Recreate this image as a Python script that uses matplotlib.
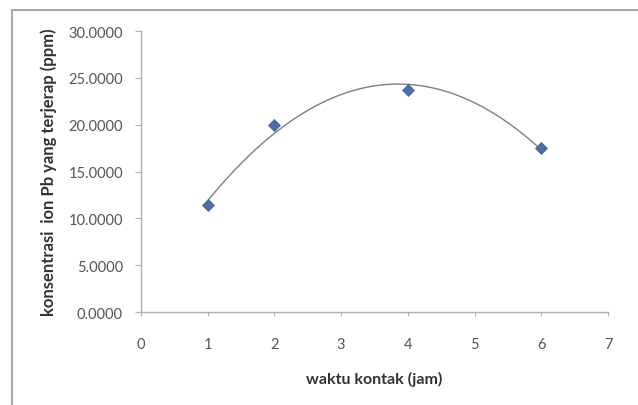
import numpy as np
import matplotlib
matplotlib.use('Agg')
import matplotlib.pyplot as plt
from matplotlib.lines import Line2D

# data
waktu = [1, 2, 4, 6]
konsentrasi = [11.4, 20.0, 23.7, 17.5]
x_ticks = [0, 1, 2, 3, 4, 5, 6, 7]
y_ticks = [0, 5, 10, 15, 20, 25, 30]

plt.rcParams['font.family'] = ['Lato', 'DejaVu Sans']

fig = plt.figure(figsize=(6.38, 4.06), dpi=100)
ax = fig.add_axes([0.221, 0.229, 0.732, 0.692])

# polynomial (order 2) trendline like excel
coef = np.polyfit(waktu, konsentrasi, 2)
xs = np.linspace(min(waktu), max(waktu), 200)
ax.plot(xs, np.polyval(coef, xs), color='#7f7f7f', lw=1.0)
ax.plot(waktu, konsentrasi, 'D', color='#4a6fa8', markersize=6, markeredgecolor='#3d5f94', markeredgewidth=0.5)

ax.set_xlim(0, 7)
ax.set_ylim(0, 30)
ax.set_xticks(x_ticks)
ax.set_yticks(y_ticks)
ax.set_yticklabels([f'{v:.4f}' for v in y_ticks])

for s in ['top', 'right']:
    ax.spines[s].set_visible(False)
for s in ['left', 'bottom']:
    ax.spines[s].set_color('#b0b0b0')
    ax.spines[s].set_linewidth(1.0)
ax.tick_params(axis='both', colors='#b0b0b0', labelcolor='#555555', labelsize=10.5, length=4)
ax.tick_params(axis='x', pad=15, length=3)
ax.tick_params(axis='y', pad=9)

ax.set_xlabel('waktu kontak (jam)', fontsize=11.5, fontweight='bold', color='#333333', labelpad=14)
ax.set_ylabel('konsentrasi  ion Pb yang terjerap (ppm)', fontsize=12, fontweight='bold', color='#333333', labelpad=8)

# chart area border (only top and left visible in original)
fig.add_artist(Line2D([12/638, 1], [1 - 11/406, 1 - 11/406], color='#aaaaaa', lw=1.5, transform=fig.transFigure))
fig.add_artist(Line2D([12/638, 12/638], [0, 1 - 11/406], color='#aaaaaa', lw=1.5, transform=fig.transFigure))

fig.savefig('out.png', dpi=100)
